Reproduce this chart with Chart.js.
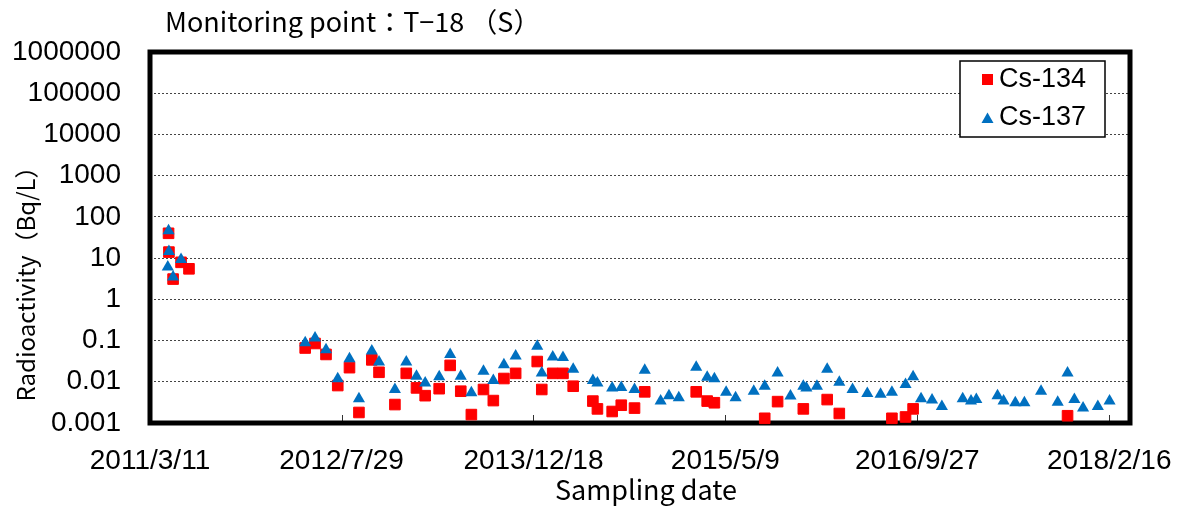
<!DOCTYPE html>
<html lang="en">
<head>
    <meta charset="UTF-8">
    <title>Monitoring point T-18 (S)</title>
    <script src="https://cdn.jsdelivr.net/npm/chart.js@4.4.1/dist/chart.umd.min.js"></script>
    <style>
        html, body { margin: 0; padding: 0; background: #fff; }
        canvas { display: block; }
    </style>
</head>
<body>
<canvas id="chart" width="1184" height="511"></canvas>
<script>
    // sampling days, counted from 2011/3/11
    const sampleDay = [
        47, 49, 50, 61, 82, 103, 410, 436, 465, 496,
        527, 552, 586, 605, 647, 677, 704, 727, 764, 793,
        821, 849, 881, 907, 935, 966, 1023, 1035, 1064, 1091,
        1118, 1170, 1182, 1221, 1245, 1280, 1307, 1349, 1371, 1397,
        1443, 1472, 1491, 1522, 1547, 1595, 1624, 1658, 1692, 1726,
        1734, 1762, 1789, 1821, 1856, 1895, 1930, 1960, 1996, 2016,
        2037, 2066, 2092, 2147, 2169, 2183, 2239, 2255, 2286, 2310,
        2354, 2398, 2424, 2442, 2465, 2504, 2535
    ];
    // Bq/L, null = not detected
    const cs134 = [
        null, 40, 14, 3.1, 7.9, 5.5, 0.066, 0.085, 0.046, 0.0081,
        0.022, 0.0018, 0.034, 0.017, 0.0028, 0.016, 0.0071, 0.0046, 0.0068, 0.025,
        0.0059, 0.0016, 0.0065, 0.0035, 0.012, 0.016, 0.031, 0.0065, 0.016, 0.016,
        0.0078, 0.0034, 0.0022, 0.0019, 0.0027, 0.0023, 0.0057, null, null, null,
        0.0057, 0.0034, 0.0031, null, null, null, 0.0013, 0.0033, null, 0.0022,
        null, null, 0.0037, 0.0017, null, null, null, 0.0013, 0.0014, 0.0022,
        null, null, null, null, null, null, null, null, null, null,
        null, null, 0.0015, null, null, null, null
    ];
    const cs137 = [
        6.1, 46, 14.5, 3.5, 9.3, null, 0.088, 0.116, 0.060, 0.0118,
        0.036, 0.0039, 0.056, 0.030, 0.0065, 0.030, 0.0136, 0.0094, 0.0132, 0.046,
        0.0136, 0.0054, 0.018, 0.0107, 0.026, 0.042, 0.073, 0.0164, 0.040, 0.039,
        0.020, 0.0107, 0.0094, 0.0071, 0.0073, 0.0065, 0.019, 0.0034, 0.0046, 0.0041,
        0.0225, 0.0129, 0.0118, 0.0056, 0.0041, 0.0059, 0.0078, 0.0164, 0.0045, 0.0078,
        0.0071, 0.0078, 0.020, 0.0097, 0.0065, 0.0052, 0.0050, 0.0056, 0.0086, 0.0132,
        0.0039, 0.0036, 0.0025, 0.0039, 0.0034, 0.0037, 0.0046, 0.0034, 0.0031, 0.0031,
        0.0059, 0.0032, 0.0164, 0.0037, 0.0023, 0.0025, 0.0034
    ];
    const tickDay = [0, 506, 1013, 1520, 2027, 2534];
    const tickLabel = ['2011/3/11', '2012/7/29', '2013/12/18', '2015/5/9', '2016/9/27', '2018/2/16'];
    const decadeTick = [0.001, 0.01, 0.1, 1, 10, 100, 1000, 10000, 100000, 1000000];

    const NUM_FONT = "'Liberation Sans', Arial, sans-serif";
    const JP_FONT = "'Noto Sans CJK JP', 'Noto Sans', sans-serif";

    function toPoints(values) {
        const pts = [];
        values.forEach((v, i) => {
            if (v !== null) pts.push({x: sampleDay[i], y: v});
        });
        return pts;
    }

    // thick frame + little inward ticks, under the markers
    const framePlugin = {
        id: 'frame',
        beforeDatasetsDraw(chart) {
            const {ctx, chartArea: a, scales: {x}} = chart;
            ctx.save();
            ctx.strokeStyle = '#333';
            ctx.lineWidth = 1;
            tickDay.forEach(d => {
                const px = Math.round(x.getPixelForValue(d)) + 0.5;
                ctx.beginPath();
                ctx.moveTo(px, a.bottom - 8);
                ctx.lineTo(px, a.bottom);
                ctx.stroke();
            });
            ctx.strokeStyle = '#000';
            ctx.lineWidth = 5;
            ctx.strokeRect(a.left, a.top, a.right - a.left, a.bottom - a.top);
            ctx.restore();
        },
        afterDraw(chart) {
            const {ctx} = chart;
            const ds = chart.data.datasets;
            ctx.save();
            ctx.fillStyle = '#000';
            ctx.textBaseline = 'middle';

            ctx.font = '27px ' + JP_FONT;
            ctx.textAlign = 'left';
            ctx.fillText('Monitoring point：T−18 （S）', 165, 22);

            ctx.font = '27px ' + JP_FONT;
            ctx.textAlign = 'center';
            ctx.fillText('Sampling date', 646, 490);

            ctx.font = '24px ' + JP_FONT;
            ctx.save();
            ctx.translate(26, 278);
            ctx.rotate(-Math.PI / 2);
            ctx.fillText('Radioactivity（Bq/L）', 0, 0);
            ctx.restore();

            // legend box
            ctx.fillStyle = '#fff';
            ctx.fillRect(960, 61, 145, 76);
            ctx.strokeStyle = '#000';
            ctx.lineWidth = 1.5;
            ctx.strokeRect(960, 61, 145, 76);

            ctx.fillStyle = ds[0].backgroundColor;
            ctx.fillRect(982, 74, 11, 11);
            ctx.fillStyle = ds[1].backgroundColor;
            ctx.beginPath();
            ctx.moveTo(987.5, 112.5);
            ctx.lineTo(993.5, 123);
            ctx.lineTo(981.5, 123);
            ctx.closePath();
            ctx.fill();

            ctx.fillStyle = '#000';
            ctx.font = '27px ' + NUM_FONT;
            ctx.textAlign = 'left';
            ctx.fillText(ds[0].label, 999, 80);
            ctx.fillText(ds[1].label, 999, 118);
            ctx.restore();
        }
    };

    const ctx = document.getElementById('chart').getContext('2d');
    new Chart(ctx, {
        type: 'scatter',
        data: {
            datasets: [
                {
                    label: 'Cs-134',
                    data: toPoints(cs134),
                    pointStyle: 'rect',
                    pointRadius: 7.5,
                    backgroundColor: '#FF0000',
                    borderColor: '#FF0000',
                    borderWidth: 1,
                    order: 1,
                    clip: false
                },
                {
                    label: 'Cs-137',
                    data: toPoints(cs137),
                    pointStyle: 'triangle',
                    pointRadius: 7,
                    backgroundColor: '#0070C0',
                    borderColor: '#0070C0',
                    borderWidth: 0,
                    order: 0,
                    clip: false
                }
            ]
        },
        options: {
            responsive: false,
            animation: false,
            layout: {padding: {top: 52, right: 54, left: 0, bottom: 0}},
            plugins: {
                legend: {display: false},
                tooltip: {enabled: false}
            },
            scales: {
                x: {
                    type: 'linear',
                    min: 0,
                    max: 2589,
                    afterBuildTicks: scale => {
                        scale.ticks = tickDay.map(v => ({value: v}));
                    },
                    afterFit: scale => {
                        // labels may hang past the plot edges, don't shrink the plot for them
                        scale.height = 88;
                        scale.paddingLeft = 0;
                        scale.paddingRight = 0;
                    },
                    grid: {display: false, drawTicks: false},
                    border: {display: false},
                    ticks: {
                        autoSkip: false,
                        maxRotation: 0,
                        padding: 21,
                        color: '#000',
                        font: {family: NUM_FONT, size: 28},
                        callback: v => tickLabel[tickDay.indexOf(v)]
                    }
                },
                y: {
                    type: 'logarithmic',
                    min: 0.001,
                    max: 1000000,
                    afterBuildTicks: scale => {
                        scale.ticks = decadeTick.map(v => ({value: v, major: true}));
                    },
                    afterFit: scale => {
                        scale.width = 150;
                        scale.paddingTop = 0;
                        scale.paddingBottom = 0;
                    },
                    grid: {color: '#444', lineWidth: 1, drawTicks: false},
                    border: {display: false, dash: [2, 2]},
                    ticks: {
                        autoSkip: false,
                        padding: 29,
                        color: '#000',
                        font: {family: NUM_FONT, size: 28},
                        callback: v => String(v)
                    }
                }
            }
        },
        plugins: [framePlugin]
    });
</script>
</body>
</html>
